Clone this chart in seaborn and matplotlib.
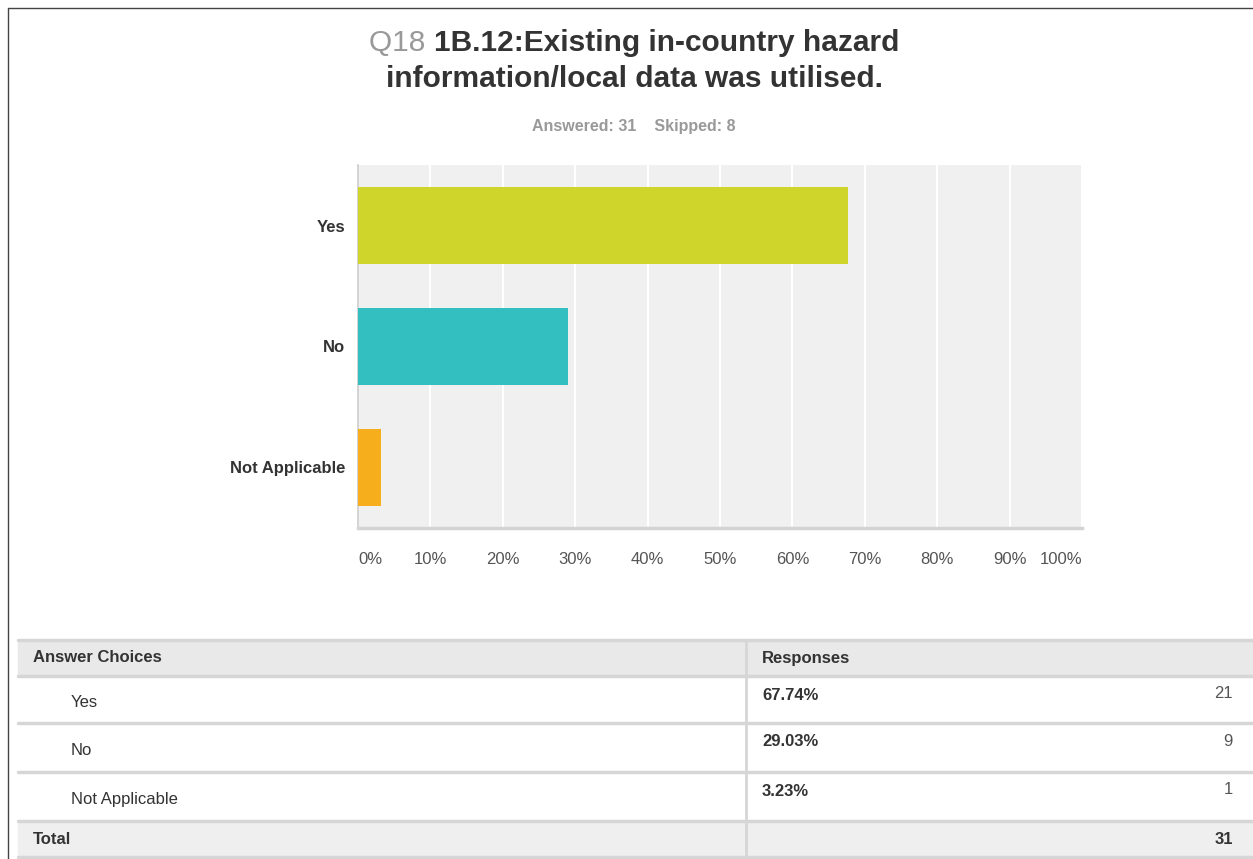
import matplotlib
matplotlib.use("Agg")
import matplotlib.pyplot as plt
import seaborn as sns
import pandas as pd
from matplotlib.patches import Rectangle

# data
categorias = ['Yes', 'No', 'Not Applicable']
percentuais = [67.74, 29.03, 3.23]
respostas = [21, 9, 1]
total = 31
respondidas = 31
puladas = 8
cores = ['#cfd52a', '#33bec0', '#f6ae1d']
ticks = [0, 10, 20, 30, 40, 50, 60, 70, 80, 90, 100]

sns.set_style('white')
plt.rcParams['font.family'] = ['Liberation Sans', 'DejaVu Sans']

W, H = 1253, 859
fig = plt.figure(figsize=(W / 100, H / 100), dpi=100)
fig.patch.set_facecolor('white')

# --- grafico de barras ---
ax = fig.add_axes([358 / W, 1 - 528 / H, (1082 - 358) / W, (528 - 165) / H])
ax.set_facecolor('#f0f0f0')
df = pd.DataFrame({'cat': categorias, 'pct': percentuais})
sns.barplot(data=df, x='pct', y='cat', hue='cat', palette=cores, legend=False,
            width=0.63, saturation=1, linewidth=0, ax=ax, zorder=3)
ax.set_xlim(0, 100)
ax.set_ylim(2.5, -0.5)
ax.set_xticks(ticks)
ax.set_xticklabels([f'{t}%' for t in ticks], fontsize=12, color='#555555')
for i, lab in enumerate(ax.get_xticklabels()):
    if i == 0:
        lab.set_ha('left')
    elif i == len(ticks) - 1:
        lab.set_ha('right')
ax.tick_params(axis='x', length=0, pad=17)
ax.tick_params(axis='y', length=0, pad=9)
for lab in ax.get_yticklabels():
    lab.set_fontweight('bold')
    lab.set_fontsize(12)
    lab.set_color('#333333')
ax.xaxis.grid(True, color='white', linewidth=1.5, zorder=0)
ax.set_axisbelow(True)
ax.set_xlabel('')
ax.set_ylabel('')
for s in ['top', 'right']:
    ax.spines[s].set_visible(False)
ax.spines['bottom'].set_color('#d4d4d4')
ax.spines['bottom'].set_linewidth(2.5)
ax.spines['left'].set_color('#cccccc')
ax.spines['left'].set_linewidth(1.2)

# --- titulo ---
renderer = fig.canvas.get_renderer()
tam_titulo = 21.5
t_q = fig.text(0, 0, 'Q18 ', fontsize=tam_titulo, color='#999999')
t_1 = fig.text(0, 0, '1B.12:Existing in-country hazard', fontsize=tam_titulo,
               fontweight='bold', color='#333333')
w_q = t_q.get_window_extent(renderer).width
w_1 = t_1.get_window_extent(renderer).width
cx = 634
x0 = cx - (w_q + w_1) / 2
y1 = 1 - 43 / H
t_q.set_position((x0 / W, y1))
t_q.set_va('center')
t_1.set_position(((x0 + w_q) / W, y1))
t_1.set_va('center')
fig.text(cx / W, 1 - 79 / H, 'information/local data was utilised.', fontsize=tam_titulo,
         fontweight='bold', color='#333333', ha='center', va='center')
fig.text(cx / W, 1 - 126 / H, f'Answered: {respondidas}    Skipped: {puladas}',
         fontsize=11.5, fontweight='bold', color='#999999', ha='center', va='center')

# --- tabela ---
tab = fig.add_axes([0, 0, 1, 1])
tab.set_xlim(0, W)
tab.set_ylim(H, 0)
tab.axis('off')
tab.patch.set_alpha(0)

# moldura
tab.plot([8, 8], [8, H], color='#444444', lw=1)
tab.plot([8, W], [8, 8], color='#444444', lw=1)

linhas_y = [640, 676, 723, 772, 821, 857]
tab.add_patch(Rectangle((18, 640), W - 18, 36, color='#e9e9e9', zorder=1))
tab.add_patch(Rectangle((18, 821), W - 18, 36, color='#efefef', zorder=1))
for y in linhas_y:
    tab.plot([18, W], [y, y], color='#d6d6d6', lw=2.5, zorder=2)
tab.plot([746, 746], [640, 857], color='#d6d6d6', lw=2, zorder=2)

fs = 12
tab.text(33, 658, 'Answer Choices', fontsize=fs, fontweight='bold', color='#333333', va='center')
tab.text(762, 658, 'Responses', fontsize=fs, fontweight='bold', color='#333333', va='center')
for i, (c, p, n) in enumerate(zip(categorias, percentuais, respostas)):
    top = linhas_y[i + 1]
    bot = linhas_y[i + 2]
    tab.text(71, (top + bot) / 2 + 3, c, fontsize=fs, color='#333333', va='center')
    tab.text(762, top + 19, f'{p:.2f}%', fontsize=fs, fontweight='bold', color='#333333', va='center')
    tab.text(1233, top + 18, str(n), fontsize=fs, color='#555555', va='center', ha='right')
tab.text(33, 839, 'Total', fontsize=fs, fontweight='bold', color='#333333', va='center')
tab.text(1233, 839, str(total), fontsize=fs, fontweight='bold', color='#333333', va='center', ha='right')

fig.savefig('out.png', dpi=100)
